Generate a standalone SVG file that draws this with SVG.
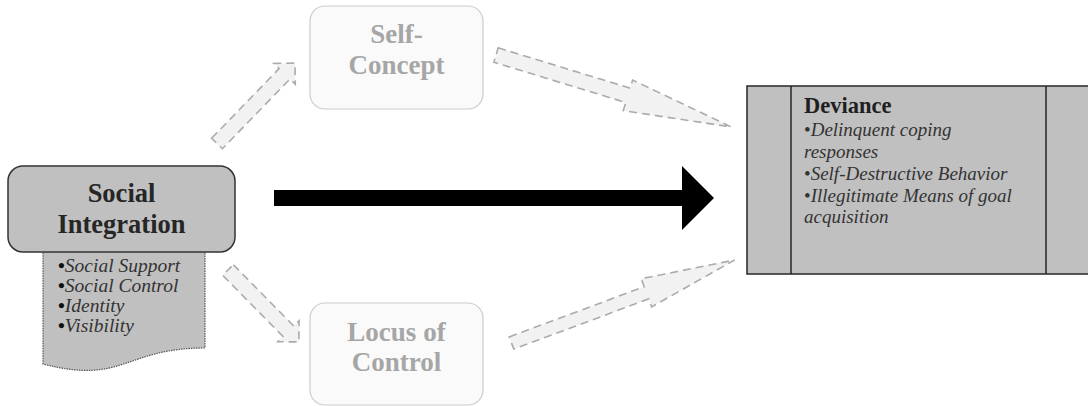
<svg xmlns="http://www.w3.org/2000/svg" width="1088" height="406" viewBox="0 0 1088 406">
<style>
.bold{font-family:"Liberation Serif","Times New Roman",serif;font-weight:bold}
.ital{font-family:"Liberation Serif","Times New Roman",serif;font-style:italic}
.dash{fill:#f2f2f2;stroke:#ababab;stroke-width:1.6;stroke-dasharray:8 5}
.ghost{fill:#fafafa;stroke:#cccccc;stroke-width:1.2}
.ghosttext{fill:#a6a6a6;font-size:27px}
.dot{font-style:normal;font-weight:bold;fill:#111111}
</style>
<rect width="1088" height="406" fill="#ffffff"/>
<g id="connectors">
<polygon class="dash" transform="translate(217,143.5) rotate(-45.9)" points="0,-7.5 97,-7.5 97,-15 112,0 97,15 97,7.5 0,7.5"/>
<polygon class="dash" transform="translate(228,270) rotate(45.4)" points="0,-7.5 86,-7.5 86,-15 101,0 86,15 86,7.5 0,7.5"/>
<polygon class="dash" transform="translate(496,55) rotate(17)" points="0,-7.5 138,-7.5 138,-16 246,0 138,16 138,7.5 0,7.5"/>
<polygon class="dash" transform="translate(511.5,343) rotate(-20.4)" points="0,-6.5 144,-6.5 144,-15 238,0 144,15 144,6.5 0,6.5"/>
<polygon id="main-arrow" fill="#000000" points="274,190 682,190 682,166 714,198 682,230 682,206 274,206"/>
</g>
<g id="social-integration">
<path d="M43,245 L205,245 L205,348 C124,348 124,385 43,364 Z" fill="#c0c0c0" stroke="#555555" stroke-width="1.2" stroke-dasharray="1.5 1"/>
<rect x="8" y="166" width="227" height="86" rx="15" ry="15" fill="#c0c0c0" stroke="#333333" stroke-width="1.5"/>
<text class="bold" x="121.5" y="202" font-size="26.5" fill="#262626" text-anchor="middle">Social</text>
<text class="bold" x="121.5" y="233" font-size="26.5" fill="#262626" text-anchor="middle">Integration</text>
<g class="ital" font-size="19.5" fill="#333333">
<text x="58" y="272"><tspan class="dot">•</tspan>Social Support</text>
<text x="58" y="292"><tspan class="dot">•</tspan>Social Control</text>
<text x="58" y="312"><tspan class="dot">•</tspan>Identity</text>
<text x="58" y="332"><tspan class="dot">•</tspan>Visibility</text>
</g>
</g>
<g id="self-concept">
<rect class="ghost" x="310" y="6" width="173" height="103" rx="15" ry="15"/>
<text class="bold ghosttext" x="396.5" y="43" text-anchor="middle">Self-</text>
<text class="bold ghosttext" x="396.5" y="74" text-anchor="middle">Concept</text>
</g>
<g id="locus-of-control">
<rect class="ghost" x="310" y="303" width="173" height="102" rx="15" ry="15"/>
<text class="bold ghosttext" x="396.5" y="341" text-anchor="middle">Locus of</text>
<text class="bold ghosttext" x="396.5" y="371" text-anchor="middle">Control</text>
</g>
<g id="deviance">
<rect x="747" y="86" width="350" height="188" fill="#c0c0c0" stroke="#262626" stroke-width="1.5"/>
<line x1="791" y1="86" x2="791" y2="274" stroke="#262626" stroke-width="1.5"/>
<line x1="1046" y1="86" x2="1046" y2="274" stroke="#262626" stroke-width="1.5"/>
<text class="bold" x="804" y="113" font-size="22.5" fill="#1f1f1f">Deviance</text>
<g class="ital" font-size="19" fill="#333333">
<text x="804" y="136"><tspan font-style="normal">•</tspan>Delinquent coping</text>
<text x="804" y="158">responses</text>
<text x="804" y="180"><tspan font-style="normal">•</tspan>Self-Destructive Behavior</text>
<text x="804" y="202"><tspan font-style="normal">•</tspan>Illegitimate Means of goal</text>
<text x="804" y="223">acquisition</text>
</g>
</g>
</svg>
